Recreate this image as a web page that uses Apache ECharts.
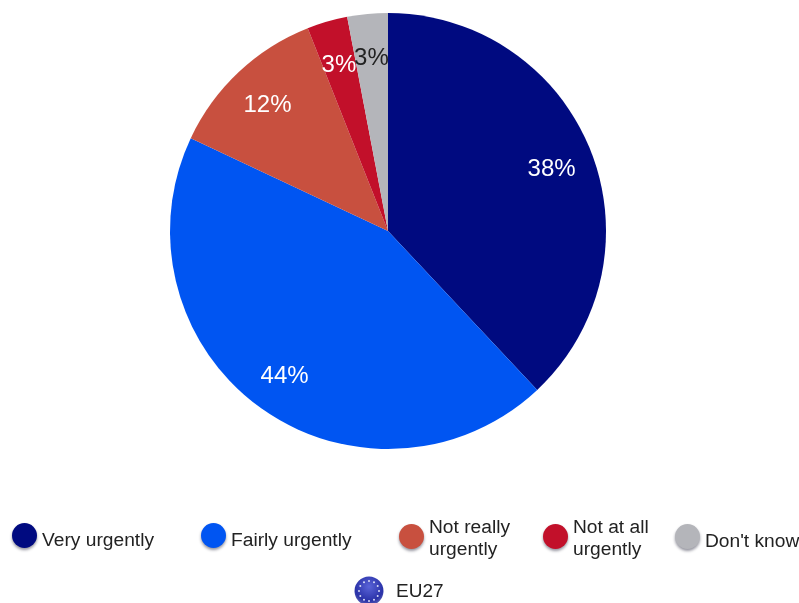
<!DOCTYPE html>
<html><head><meta charset="utf-8">
<style>html,body{margin:0;padding:0;background:#fff}#c{width:799px;height:603px}</style>
<script src="https://cdn.jsdelivr.net/npm/echarts@6/dist/echarts.min.js"></script>
</head><body><div id="c"></div>
<script>
const categories = ["Very urgently","Fairly urgently","Not really\nurgently","Not at all\nurgently","Don't know"];
const values = [38,44,12,3,3];
const colors = ["#000A80","#0055F2","#C8503F","#C2102A","#B4B5BA"];
const labelColors = ["#fff","#fff","#fff","#fff","#222"];
const legendLeft = [12,201,399,543,675];
const legendTop = [521,521,514,514,522];
const FONT = "'Liberation Sans',Arial,sans-serif";
const chart = echarts.init(document.getElementById('c'),null,{renderer:'canvas'});
const cx=388, cy=231;
const data = categories.map((n,i)=>({name:n,value:values[i],itemStyle:{color:colors[i]}}));
const labelData = categories.map((n,i)=>({name:n+' ',value:values[i],
  itemStyle:{color:'rgba(0,0,0,0)'},
  label:{color:labelColors[i]}}));
const euStars = [...Array(12).keys()].map(i=>({
  type:'circle',
  shape:{cx:369+10*Math.sin(i*Math.PI/6),cy:591-10*Math.cos(i*Math.PI/6),r:1},
  style:{fill:'#D8DCF5'}
}));
const legendText = name => name.split('\n').map((s,i,a)=>`{${a.length===1?'one':'two'}|${s}}`).join('\n');
const token = {fontFamily:FONT,fontSize:19.2,color:'#222',lineHeight:22};
chart.setOption({
  animation:false,
  backgroundColor:'#fff',
  legend: categories.map((n,i)=>({
    data:[n], left:legendLeft[i], top:legendTop[i], orient:'horizontal',
    icon:'circle', itemWidth:25, itemHeight:25, selectedMode:false,
    padding:0,
    formatter:legendText,
    itemStyle:{shadowBlur:3,shadowColor:'rgba(60,60,80,0.55)',shadowOffsetY:2},
    textStyle:{fontFamily:FONT,fontSize:19.2,color:'#222',
      rich:{one:{...token,padding:[10,0,0,0]},
            two:{...token,padding:[4,0,0,0]}}}
  })),
  series:[
    {type:'pie',center:[cx,cy],radius:[0,218],startAngle:90,clockwise:true,silent:true,
     label:{show:false},labelLine:{show:false},itemStyle:{borderWidth:0},data},
    {type:'pie',center:[cx,cy],radius:[128,218],startAngle:90,clockwise:true,silent:true,
     legendHoverLink:false,avoidLabelOverlap:false,
     label:{show:true,position:'inside',formatter:'{c}%',fontFamily:FONT,fontSize:24,rotate:0,offset:[0,3]},
     labelLayout:{hideOverlap:false},
     labelLine:{show:false},itemStyle:{borderWidth:0},
     data:labelData}
  ],
  graphic:[
    {type:'ellipse',shape:{cx:369,cy:591,rx:14.5,ry:14.5},
     style:{fill:new echarts.graphic.RadialGradient(0.5,0.35,0.7,[{offset:0,color:'#5A64D8'},{offset:0.7,color:'#2A32A8'},{offset:1,color:'#6A70B8'}])}},
    ...euStars,
    {type:'text',left:396,top:582,style:{text:'EU27',fontFamily:FONT,fontSize:19,fill:'#222'}}
  ]
});
</script></body></html>
